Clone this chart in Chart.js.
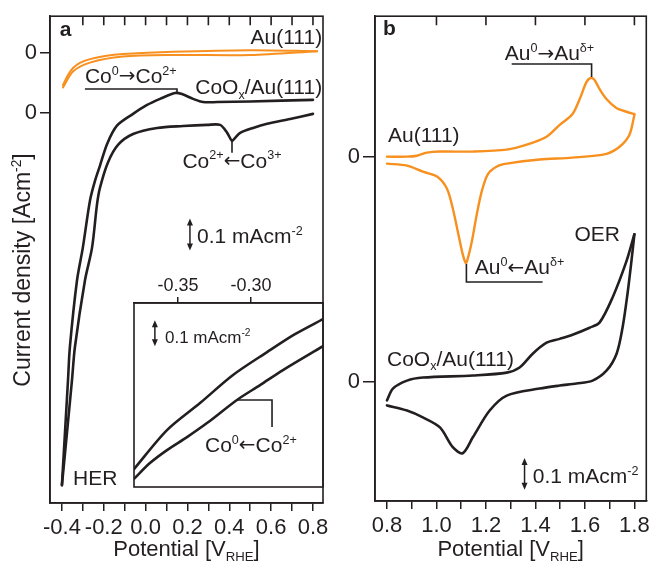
<!DOCTYPE html>
<html><head><meta charset="utf-8">
<script src="https://cdn.jsdelivr.net/npm/chart.js@4.4.1/dist/chart.umd.min.js"></script>
<style>
html,body{margin:0;padding:0;background:#fff;}
#wrap{position:relative;width:654px;height:565px;background:#fff;overflow:hidden}
canvas{position:absolute}
</style></head><body>
<div id="wrap">
<canvas id="ca" width="340" height="565" style="left:0;top:0;width:340px;height:565px"></canvas>
<canvas id="cb" width="314" height="565" style="left:340px;top:0;width:314px;height:565px"></canvas>
<canvas id="ci" width="205" height="225" style="left:124px;top:270px;width:205px;height:225px"></canvas>
</div>
<script>
// ---------- DATA (potential in V_RHE, current density in mA cm^-2) ----------
// Panel a: Au(111)
const A_AU_UP_V  = [-0.395,-0.371,-0.347,-0.314,-0.266,-0.194,-0.108,0.131,0.5,0.82];
const A_AU_UP_J  = [-0.100,-0.069,-0.047,-0.031,-0.019,-0.009,-0.003,0.004,0.009,0.006];
const A_AU_LO_V  = [-0.395,-0.347,-0.266,-0.108,0.131,0.5,0.82];
const A_AU_LO_J  = [-0.108,-0.058,-0.030,-0.011,-0.006,-0.006,0.006];
// Panel a: CoOx/Au(111)
const A_CO_UP_V  = [-0.4,-0.371,-0.362,-0.328,-0.300,-0.266,-0.242,-0.218,-0.184,-0.137,-0.06,0.007,0.069,0.141,0.174,0.227,0.275,0.342,0.5,0.8];
const A_CO_UP_J  = [-1.166,-0.838,-0.734,-0.525,-0.422,-0.275,-0.213,-0.165,-0.097,-0.040,-0.003,0.025,0.044,0.0625,0.059,0.044,0.034,0.034,0.036,0.041];
const A_CO_LO_V  = [-0.4,-0.352,-0.338,-0.29,-0.256,-0.232,-0.218,-0.18,-0.132,-0.06,0.055,0.179,0.294,0.356,0.39,0.413,0.428,0.452,0.514,0.581,0.691,0.8];
const A_CO_LO_J  = [-1.166,-0.838,-0.734,-0.525,-0.422,-0.285,-0.234,-0.155,-0.100,-0.066,-0.047,-0.041,-0.0375,-0.0375,-0.0625,-0.0875,-0.078,-0.0625,-0.047,-0.034,-0.019,-0.003];
// Inset (zoom of HER region)
const I_UP_V = [-0.3801,-0.3575,-0.3349,-0.3123,-0.289,-0.2699,-0.2507];
const I_UP_J = [-0.831,-0.681,-0.577,-0.469,-0.381,-0.312,-0.254];
const I_LO_V = [-0.3801,-0.3692,-0.3575,-0.3438,-0.3301,-0.3096,-0.2938,-0.2781,-0.2507];
const I_LO_J = [-0.869,-0.808,-0.758,-0.708,-0.654,-0.565,-0.508,-0.45,-0.358];
// Panel b: Au(111)
const B_AU_UP_V = [0.8,0.881,0.921,0.961,1.014,1.147,1.284,1.365,1.445,1.498,1.55,1.579,1.606,1.623,1.639,1.659,1.687,1.727,1.768,1.8];
const B_AU_UP_J = [0,0,0.003,0.0125,0.016,0.016,0.022,0.0375,0.0625,0.1,0.134,0.181,0.234,0.247,0.241,0.2125,0.181,0.153,0.141,0.134];
const B_AU_LO_V = [0.8,0.881,0.945,1.002,1.042,1.066,1.086,1.106,1.119,1.127,1.143,1.163,1.183,1.207,1.244,1.284,1.417,1.55,1.687,1.74,1.78,1.8];
const B_AU_LO_J = [-0.022,-0.028,-0.047,-0.0625,-0.1,-0.1625,-0.234,-0.306,-0.334,-0.319,-0.266,-0.181,-0.109,-0.056,-0.031,-0.022,-0.009,-0.003,0.009,0.031,0.069,0.131];
// Panel b: CoOx/Au(111)
const B_CO_UP_V = [0.8,0.824,0.881,0.945,1.147,1.284,1.336,1.389,1.445,1.498,1.55,1.619,1.659,1.711,1.768,1.8];
const B_CO_UP_J = [-0.059,-0.022,0.003,0.0125,0.019,0.028,0.044,0.0875,0.122,0.134,0.147,0.169,0.185,0.2625,0.378,0.4625];
const B_CO_LO_V = [0.8,0.881,0.945,1.014,1.066,1.106,1.147,1.215,1.284,1.417,1.498,1.566,1.631,1.687,1.728,1.752,1.772,1.788,1.8];
const B_CO_LO_J = [-0.075,-0.091,-0.1125,-0.144,-0.206,-0.225,-0.175,-0.091,-0.044,-0.022,-0.0125,-0.006,0.003,0.034,0.0875,0.169,0.275,0.378,0.4625];
// vertical stacking offsets of the Au(111) traces
const A_AU_OFFSET = 0.1875;
const B_AU_OFFSET = 0.706;
// ticks
const A_XTICKS  = [-0.4,-0.3,-0.2,-0.1,0,0.1,0.2,0.3,0.4,0.5,0.6,0.7,0.8];
const A_XLABELS = ['-0.4','','-0.2','','0.0','','0.2','','0.4','','0.6','','0.8'];
const A_TOPTICKS = [-0.3,-0.2,-0.1,0,0.1,0.2,0.3,0.4,0.5,0.6,0.7,0.8];
const A_YTICKS  = [0, A_AU_OFFSET];
const B_XTICKS  = [0.8,0.9,1.0,1.1,1.2,1.3,1.4,1.5,1.6,1.7,1.8];
const B_XLABELS = ['0.8','','1.0','','1.2','','1.4','','1.6','','1.8'];
const B_TOPTICKS = [1.0,1.2,1.4,1.6,1.8];
const B_YTICKS  = [0, B_AU_OFFSET];
const I_XTICKS  = [-0.35,-0.30];
const I_XLABELS = ['-0.35','-0.30'];
const Y_LABELS  = ['0','0'];

// ---------- STYLE ----------
const FONT = "'Liberation Sans', Arial, Helvetica, sans-serif";
const ARROWFONT = "'DejaVu Sans', sans-serif";
const INK = '#231f20';
const ORANGE = '#f7901e';

function pts(V, J, off){ return V.map((v,i)=>({x:v, y:J[i]+(off||0)})); }
function ds(data, color, w){
  return {data, borderColor:color, borderWidth:w, pointRadius:0, fill:false,
          tension:0.3, borderCapStyle:'round', borderJoinStyle:'round'};
}
function segFont(k, size, bold){
  if (k==='arr') return (size*0.95)+'px '+ARROWFONT;
  return (bold?'bold ':'')+(k==='sup'||k==='sub'?size*0.6:size)+'px '+FONT;
}
function rich(ctx, x, y, segs, size, align, bold){
  let w = 0;
  for (const [t,k] of segs){ ctx.font=segFont(k,size,bold); w+=ctx.measureText(t).width; }
  let cx = align==='right' ? x-w : align==='center' ? x-w/2 : x;
  ctx.textAlign='left'; ctx.textBaseline='alphabetic'; ctx.fillStyle=INK;
  for (const [t,k] of segs){
    ctx.font=segFont(k,size,bold);
    const dy = k==='sup' ? -size*0.40 : (k==='sub' ? size*0.22 : (k==='arr' ? -size*0.02 : 0));
    ctx.fillText(t, cx, y+dy);
    cx += ctx.measureText(t).width;
  }
}
function vArrow(ctx, x, y1, y2){
  ctx.save(); ctx.strokeStyle=INK; ctx.fillStyle=INK; ctx.lineWidth=1.5;
  ctx.beginPath(); ctx.moveTo(x,y1+4); ctx.lineTo(x,y2-4); ctx.stroke();
  ctx.beginPath(); ctx.moveTo(x,y1); ctx.lineTo(x-3,y1+7); ctx.lineTo(x+3,y1+7); ctx.closePath(); ctx.fill();
  ctx.beginPath(); ctx.moveTo(x,y2); ctx.lineTo(x-3,y2-7); ctx.lineTo(x+3,y2-7); ctx.closePath(); ctx.fill();
  ctx.restore();
}
function poly(ctx, arr){
  ctx.save(); ctx.strokeStyle=INK; ctx.lineWidth=1.6; ctx.beginPath();
  arr.forEach((p,i)=> i?ctx.lineTo(p[0],p[1]):ctx.moveTo(p[0],p[1])); ctx.stroke(); ctx.restore();
}
function frame(chart, topTicks){
  const {ctx, chartArea:a} = chart; const sx = chart.scales.x;
  ctx.save(); ctx.strokeStyle=INK; ctx.lineWidth=1.6;
  ctx.strokeRect(a.left, a.top, a.right-a.left, a.bottom-a.top);
  if (topTicks){ ctx.beginPath();
    for (const v of topTicks){ const x=sx.getPixelForValue(v); ctx.moveTo(x,a.top); ctx.lineTo(x,a.top+9); }
    ctx.stroke(); }
  ctx.restore();
}
function xScaleCfg(ticks, labels, extra){
  return Object.assign({
    type:'linear', position:'bottom',
    afterBuildTicks: s => { s.ticks = ticks.map(v=>({value:v})); },
    ticks:{ callback:(v,i)=>labels[i], autoSkip:false, maxRotation:0, color:INK, padding:4, font:{family:FONT,size:22} },
    grid:{ display:true, drawOnChartArea:false, drawTicks:true, tickLength:8, color:INK, lineWidth:1.5 },
    border:{ display:true, color:INK, width:1.6 }
  }, extra);
}
function yScaleCfg(ticks, extra){
  return Object.assign({
    type:'linear', position:'left',
    afterBuildTicks: s => { s.ticks = ticks.map(v=>({value:v})); },
    ticks:{ callback:(v,i)=>Y_LABELS[i], autoSkip:false, color:INK, padding:3, font:{family:FONT,size:22} },
    grid:{ display:true, drawOnChartArea:false, drawTicks:true, tickLength:10, color:INK, lineWidth:1.5 },
    border:{ display:true, color:INK, width:1.6 }
  }, extra);
}
const common = { responsive:false, animation:false, devicePixelRatio:1, events:[],
  plugins:{ legend:{display:false}, tooltip:{enabled:false} } };

// ---------- PANEL A ----------
new Chart(document.getElementById('ca'), {
  type:'line',
  data:{ datasets:[
    ds(pts(A_AU_UP_V, A_AU_UP_J, A_AU_OFFSET), ORANGE, 2),
    ds(pts(A_AU_LO_V, A_AU_LO_J, A_AU_OFFSET), ORANGE, 2),
    ds(pts(A_CO_UP_V, A_CO_UP_J), INK, 2.6),
    ds(pts(A_CO_LO_V, A_CO_LO_J), INK, 2.6)
  ]},
  options: Object.assign({}, common, {
    layout:{ padding:{ top:15, right:17, left:0, bottom:0 } },
    scales:{
      x: xScaleCfg(A_XTICKS, A_XLABELS, { min:-0.457, max:0.848, afterFit: s=>{ s.height = 62; } }),
      y: yScaleCfg(A_YTICKS, { min:-1.222, max:0.303, afterFit: s=>{ s.width = 50; } })
    }
  }),
  plugins:[{ id:'decoA', afterDraw(chart){
    const ctx = chart.ctx, sx = chart.scales.x, sy = chart.scales.y, a = chart.chartArea;
    const P = (v,j)=>[sx.getPixelForValue(v), sy.getPixelForValue(j)];
    frame(chart, A_TOPTICKS);
    let p;
    p = P(-0.41, 0.241); rich(ctx, p[0], p[1], [['a']], 21, 'left', true);
    p = P(0.844, 0.216); rich(ctx, p[0], p[1], [['Au(111)']], 21, 'right');
    p = P(-0.29, 0.094); rich(ctx, p[0], p[1], [['Co'],['0','sup'],['\u2192','arr'],['Co'],['2+','sup']], 21, 'left');
    poly(ctx, [P(-0.29,0.075), P(0.15,0.075), P(0.15,0.0625)]);
    p = P(0.844, 0.059); rich(ctx, p[0], p[1], [['CoO'],['x','sub'],['/Au(111)']], 21, 'right');
    poly(ctx, [P(0.413,-0.0875), P(0.413,-0.125)]);
    p = P(0.413, -0.172); rich(ctx, p[0], p[1], [['Co'],['2+','sup'],['\u2190','arr'],['Co'],['3+','sup']], 21, 'center');
    const ax = sx.getPixelForValue(0.212);
    vArrow(ctx, ax, sy.getPixelForValue(-0.381+0.05), sy.getPixelForValue(-0.381-0.05));
    p = P(0.246, -0.409); rich(ctx, p[0], p[1], [['0.1 mAcm'],['-2','sup']], 21, 'left');
    p = P(-0.347, -1.166); rich(ctx, p[0], p[1], [['HER']], 21, 'left');
    // axis titles
    ctx.save(); ctx.translate(30, 270); ctx.rotate(-Math.PI/2);
    rich(ctx, 0, 0, [['Current density [Acm'],['-2','sup'],[']']], 23, 'center');
    ctx.restore();
    rich(ctx, (a.left+a.right)/2, 556, [['Potential [V'],['RHE','sub'],[']']], 22, 'center');
  }}]
});

// ---------- INSET ----------
new Chart(document.getElementById('ci'), {
  type:'line',
  data:{ datasets:[
    ds(pts(I_UP_V, I_UP_J), INK, 2.6),
    ds(pts(I_LO_V, I_LO_J), INK, 2.6)
  ]},
  options: Object.assign({}, common, {
    layout:{ padding:{ top:0, right:6, left:10, bottom:8 } },
    scales:{
      x: xScaleCfg(I_XTICKS, I_XLABELS, { position:'top', min:-0.3801, max:-0.2507,
           afterFit: s=>{ s.height = 33; },
           ticks:{ callback:(v,i)=>I_XLABELS[i], autoSkip:false, maxRotation:0, color:INK, padding:0, font:{family:FONT,size:18} },
           grid:{ display:true, drawOnChartArea:false, drawTicks:true, tickLength:6, color:INK, lineWidth:1.5 } }),
      y: { type:'linear', display:false, min:-0.9, max:-0.192 }
    }
  }),
  plugins:[{ id:'decoI', afterDraw(chart){
    const ctx = chart.ctx, sx = chart.scales.x, sy = chart.scales.y;
    const P = (v,j)=>[sx.getPixelForValue(v), sy.getPixelForValue(j)];
    frame(chart, null);
    const ax = sx.getPixelForValue(-0.3658);
    vArrow(ctx, ax, sy.getPixelForValue(-0.308+0.05), sy.getPixelForValue(-0.308-0.05));
    let p = P(-0.3589, -0.346); rich(ctx, p[0], p[1], [['0.1 mAcm'],['-2','sup']], 17, 'left');
    poly(ctx, [P(-0.3096,-0.565), P(-0.2856,-0.565), P(-0.2856,-0.669)]);
    p = P(-0.3315, -0.765); rich(ctx, p[0], p[1], [['Co'],['0','sup'],['\u2190','arr'],['Co'],['2+','sup']], 21, 'left');
  }}]
});

// ---------- PANEL B ----------
new Chart(document.getElementById('cb'), {
  type:'line',
  data:{ datasets:[
    ds(pts(B_AU_UP_V, B_AU_UP_J, B_AU_OFFSET), ORANGE, 2.4),
    ds(pts(B_AU_LO_V, B_AU_LO_J, B_AU_OFFSET), ORANGE, 2.4),
    ds(pts(B_CO_UP_V, B_CO_UP_J), INK, 2.6),
    ds(pts(B_CO_LO_V, B_CO_LO_J), INK, 2.6)
  ]},
  options: Object.assign({}, common, {
    layout:{ padding:{ top:14, right:7, left:0, bottom:0 } },
    scales:{
      x: xScaleCfg(B_XTICKS, B_XLABELS, { min:0.7516, max:1.848, afterFit: s=>{ s.height = 64; } }),
      y: yScaleCfg(B_YTICKS, { min:-0.375, max:1.147, afterFit: s=>{ s.width = 35; },
           ticks:{ callback:(v,i)=>Y_LABELS[i], autoSkip:false, color:INK, padding:3, font:{family:FONT,size:22} },
           grid:{ display:true, drawOnChartArea:false, drawTicks:true, tickLength:12, color:INK, lineWidth:1.5 } })
    }
  }),
  plugins:[{ id:'decoB', afterDraw(chart){
    const ctx = chart.ctx, sx = chart.scales.x, sy = chart.scales.y, a = chart.chartArea;
    const P = (v,j)=>[sx.getPixelForValue(v), sy.getPixelForValue(j)];
    frame(chart, B_TOPTICKS);
    let p;
    p = P(0.784, 1.0875); rich(ctx, p[0], p[1], [['b']], 21, 'left', true);
    p = P(1.276, 1.009); rich(ctx, p[0], p[1], [['Au'],['0','sup'],['\u2192','arr'],['Au'],['\u03b4+','sup']], 21, 'left');
    poly(ctx, [P(1.304,0.997), P(1.627,0.997), P(1.627,0.956)]);
    p = P(0.804, 0.753); rich(ctx, p[0], p[1], [['Au(111)']], 21, 'left');
    poly(ctx, [P(1.121,0.369), P(1.121,0.3125), P(1.429,0.3125)]);
    p = P(1.155, 0.3375); rich(ctx, p[0], p[1], [['Au'],['0','sup'],['\u2190','arr'],['Au'],['\u03b4+','sup']], 21, 'left');
    p = P(1.558, 0.44); rich(ctx, p[0], p[1], [['OER']], 21, 'left');
    p = P(0.8, 0.05); rich(ctx, p[0], p[1], [['CoO'],['x','sub'],['/Au(111)']], 21, 'left');
    const ax = sx.getPixelForValue(1.356);
    vArrow(ctx, ax, sy.getPixelForValue(-0.29+0.05), sy.getPixelForValue(-0.29-0.05));
    p = P(1.389, -0.319); rich(ctx, p[0], p[1], [['0.1 mAcm'],['-2','sup']], 21, 'left');
    rich(ctx, (a.left+a.right)/2, 556, [['Potential [V'],['RHE','sub'],[']']], 22, 'center');
  }}]
});
</script>
</body></html>
